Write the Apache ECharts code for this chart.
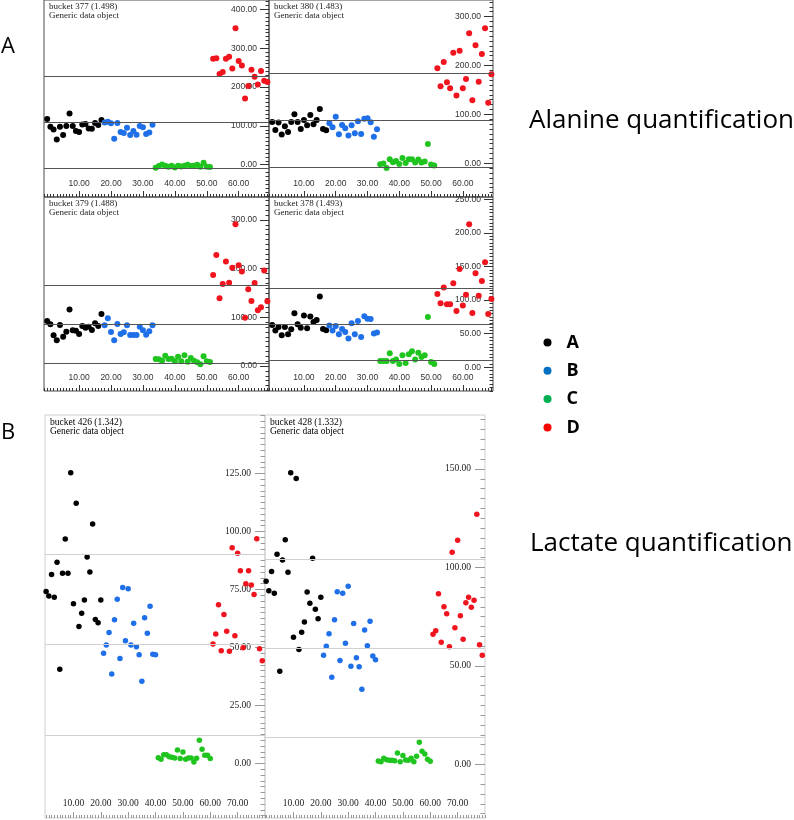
<!DOCTYPE html>
<html><head><meta charset="utf-8">
<script src="https://cdn.jsdelivr.net/npm/echarts@6/dist/echarts.min.js"></script>
<style>html,body{margin:0;padding:0;background:#fff}#c{width:794px;height:820px}</style>
</head><body><div id="c"></div>
<script>
// ---------- data ----------
const groupNames = ['A', 'B', 'C', 'D'];
// first sample index of each group
const alanineStarts = [0, 18, 34, 52];
const lactateStarts = [0, 21, 41, 61];

const alanineXTicks = [10, 20, 30, 40, 50, 60];
const lactateXTicks = [10, 20, 30, 40, 50, 60, 70];

// bucket 377 (1.498)
const b377Black = [117.6, 97.9, 91, 65.3, 97.9, 76.4, 99.6, 132, 99.6, 86.7, 84.2, 103.9, 104.8, 93.6, 92.8, 107.3, 102.2, 115.1];
const b377Blue = [109, 110.8, 106.5, 67, 107.3, 84.2, 81.6, 95.3, 76.4, 86.7, 77.3, 99.6, 96.2, 79, 83.3, 103];
const b377Green = [-7.6, -3.3, 0.9, -2.5, -5, -2.5, -6.8, -2.5, -4.2, -2.5, 0.1, -3.3, -2.5, 0, -5, 5.2, -5, -6];
const b377Red = [272.9, 273.8, 233.5, 238.7, 272.9, 278, 248, 351, 266.9, 255.7, 170.8, 202.5, 244.5, 226.5, 206.8, 241.1, 216.2, 212.8];
const b377Lines = [228, 109, -10];
const b377YTicks = [0, 100, 200, 300, 400];

// bucket 380 (1.483)
const b380Black = [84.5, 68.2, 83.2, 58.6, 75.7, 64.1, 84.5, 100.2, 84.5, 70.2, 88.6, 77.7, 98.8, 79.8, 88.6, 111.1, 70.2, 67.5];
const b380Blue = [81.8, 73.6, 95.4, 59.3, 78.4, 71.6, 56.6, 77.7, 61.3, 85.9, 60, 91.3, 92, 83.8, 54.5, 69.5];
const b380Green = [-2, -0.7, -9.5, 8.2, 2, 4.8, -1.4, 10.9, 0.7, 8.2, 8.2, 1.4, 7.5, 1.4, 3.4, 39.5, -2.7, -4.8];
const b380Red = [194.3, 157.5, 207.2, 165.6, 153.4, 226.3, 138.4, 230.4, 153.4, 172.5, 265.9, 128.8, 241.3, 167, 223.6, 276.1, 124, 182];
const b380Lines = [184, 88, -9];
const b380YTicks = [0, 100, 200, 300];

// bucket 379 (1.488)
const b379Black = [92.5, 85.6, 63, 52.7, 84.2, 60.3, 70.5, 115.8, 73.3, 72.6, 65.8, 82.2, 78.8, 80.8, 74, 87.7, 82.2, 106.8];
const b379Blue = [83.6, 97.9, 69.9, 52.7, 86.3, 65.8, 69.2, 83.6, 63.7, 63.7, 63.7, 80.8, 73.3, 64.4, 71.2, 83.6];
const b379Green = [14.4, 13.7, 11, 21.2, 14.4, 15.1, 9.6, 19.2, 9.6, 21.9, 8.9, 16.4, 11, 7.5, 3.4, 19.9, 9.6, 8.2];
const b379Red = [187, 228, 139, 168.5, 214.4, 171.2, 202, 291, 206.8, 193.8, 99.3, 157.5, 133.6, 170.5, 114.4, 120.5, 195.9, 132.9];
const b379Lines = [165, 85.5, 5.5];
const b379YTicks = [0, 100, 200, 300];

// bucket 378 (1.493)
const b378Black = [63, 54.6, 60, 47.6, 60, 49.1, 56.5, 80.4, 64, 59, 76.9, 58, 75.4, 67.5, 70.4, 105.2, 57, 55.1];
const b378Blue = [62, 54.6, 61.5, 49.1, 57, 52.6, 42.7, 65.5, 49.1, 69, 45.1, 75.9, 72.4, 71.9, 50.1, 51.6];
const b378Green = [9.4, 9.4, 9.4, 20.8, 9.4, 11.4, 5, 17.9, 6.4, 19.3, 23.8, 11.4, 21.8, 15.4, 17.9, 74.9, 7.9, 5];
const b378Red = [109.1, 95.2, 118.6, 93.8, 93.8, 125, 83.8, 146.3, 91.8, 108.1, 212.8, 80.9, 139.9, 106.6, 128.5, 156.3, 79.4, 101.7];
const b378Lines = [117, 64, 11];
const b378YTicks = [0, 50, 100, 150, 200, 250];

// bucket 426 (1.342)
const b426Black = [74.1, 72.2, 81.4, 71.6, 86.7, 40.6, 82, 96.8, 82, 125.3, 68.8, 112.2, 59, 64.7, 70.5, 89, 82.5, 103.2, 62.1, 60.7, 70.5];
const b426Blue = [47.5, 51.1, 56.4, 38.6, 61.9, 70.8, 45.3, 75.9, 52.9, 75.3, 51.1, 60.4, 50.3, 46.9, 35.4, 62.8, 56.1, 67.8, 47.1, 46.9];
const b426Green = [2.5, 1.8, 3.8, 3.8, 2.9, 2.7, 2.4, 5.8, 2.1, 5, 1.8, 2.4, 2.4, 0.6, 2.2, 10, 6.1, 3.5, 3.5, 2.1];
const b426Red = [51.5, 55.8, 68.4, 48.6, 64.2, 57, 48.4, 93, 55.1, 90.6, 83.1, 49.9, 77.5, 83.1, 76.9, 72.8, 96.9, 49.5, 44.3];
const b426Lines = [90, 51.2, 12.3];
const b426YTicks = [0, 25, 50, 75, 100, 125];

// bucket 428 (1.332)
const b428Black = [93, 88.2, 97.9, 86.9, 106.7, 47.3, 103.8, 114.1, 97.6, 148.1, 64.6, 145.1, 58.3, 67.1, 72.3, 87.6, 81.8, 104.7, 78.8, 73.9, 84.9];
const b428Blue = [55.4, 60, 66.4, 44.3, 73.4, 87.7, 52.7, 86.9, 61.5, 90.5, 49.8, 71.5, 54.2, 49.6, 38.2, 68.3, 60.2, 72.7, 55.1, 53.2];
const b428Green = [1.8, 1.4, 3.1, 2.4, 2.1, 2.1, 1.9, 5.8, 1.4, 4.5, 2.3, 2.1, 3.1, 1.3, 4.2, 11.3, 6.7, 5.3, 2.6, 1.6];
const b428Red = [66.1, 67.9, 86.7, 62, 80.1, 76.5, 59.8, 107.7, 69.4, 113.8, 75.5, 63.6, 82.1, 84.9, 79.8, 83.4, 127, 60.8, 55.4];
const b428Lines = [104, 59, 14];
const b428YTicks = [0, 50, 100, 150];

// ---------- layout / style ----------
const dotColors = ['#000000', '#1e6fe8', '#1fc41f', '#f0141e'];
const legendColors = ['#000000', '#0070C0', '#00B050', '#FF0000'];

const styleA = { border: '#4a4a4a', line: '#555555', tick: '#333333', label: '#333333',
  font: 'Liberation Sans', fs: 8.5, sym: 6, xMajor: 6, xMinor: 3, yMajor: 9, yMinor: 3.5, xMargin: 9, yMargin: 12 };
const styleB = { border: '#cfcfcf', line: '#d0d0d0', tick: '#9a9a9a', label: '#222222',
  font: 'Liberation Serif', fs: 9.5, sym: 5.5, xMajor: 6, xMinor: 3, yMajor: 10, yMinor: 4.5, xMargin: 10, yMargin: 14 };

const panels = [
  { cap: 'bucket 377 (1.498)', grid: { left: 44, top: 0, width: 225, height: 197 }, x: [-1, 69.5], xt: alanineXTicks,
    y: [-83, 424], yt: b377YTicks, ym: 10, g: [b377Black, b377Blue, b377Green, b377Red], st: alanineStarts, lines: b377Lines, s: styleA },
  { cap: 'bucket 380 (1.483)', grid: { left: 269, top: 0, width: 224, height: 197 }, x: [-1, 69.5], xt: alanineXTicks,
    y: [-69, 334], yt: b380YTicks, ym: 10, g: [b380Black, b380Blue, b380Green, b380Red], st: alanineStarts, lines: b380Lines, s: styleA },
  { cap: 'bucket 379 (1.488)', grid: { left: 44, top: 197, width: 225, height: 194 }, x: [-1, 69.5], xt: alanineXTicks,
    y: [-51.3, 347], yt: b379YTicks, ym: 10, g: [b379Black, b379Blue, b379Green, b379Red], st: alanineStarts, lines: b379Lines, s: styleA },
  { cap: 'bucket 378 (1.493)', grid: { left: 269, top: 197, width: 224, height: 194 }, x: [-1, 69.5], xt: alanineXTicks,
    y: [-35.3, 253.4], yt: b378YTicks, ym: 5, g: [b378Black, b378Blue, b378Green, b378Red], st: alanineStarts, lines: b378Lines, s: styleA },
  { cap: 'bucket 426 (1.342)', grid: { left: 45, top: 415, width: 220, height: 403 }, x: [-0.4, 80], xt: lactateXTicks,
    y: [-23.5, 150.2], yt: b426YTicks, ym: 2.5, g: [b426Black, b426Blue, b426Green, b426Red], st: lactateStarts, lines: b426Lines, s: styleB },
  { cap: 'bucket 428 (1.332)', grid: { left: 265, top: 415, width: 220, height: 403 }, x: [-0.4, 80], xt: lactateXTicks,
    y: [-27.2, 177.4], yt: b428YTicks, ym: 5, g: [b428Black, b428Blue, b428Green, b428Red], st: lactateStarts, lines: b428Lines, s: styleB }
];

function steps(lo, hi, step) {
  const out = [];
  for (let v = Math.ceil(lo / step) * step; v <= hi + 1e-9; v += step) out.push(+v.toFixed(4));
  return out;
}
const fmt = v => Number(v).toFixed(2);
const noLine = { show: false, onZero: false };

const grids = [], xAxes = [], yAxes = [], series = [], graphics = [];
panels.forEach((p, i) => {
  const s = p.s;
  grids.push(Object.assign({ show: true, borderColor: s.border, borderWidth: 1, backgroundColor: 'transparent' }, p.grid));
  const lab = { color: s.label, fontFamily: s.font, fontSize: s.fs };
  // major x axis
  xAxes.push({ type: 'value', gridIndex: i, min: p.x[0], max: p.x[1], position: 'bottom',
    axisLine: noLine, splitLine: { show: false },
    axisTick: { show: true, inside: true, length: s.xMajor, customValues: p.xt, lineStyle: { color: s.tick } },
    axisLabel: Object.assign({ show: true, inside: true, margin: s.xMargin, customValues: p.xt, formatter: fmt }, lab) });
  // minor x ticks
  xAxes.push({ type: 'value', gridIndex: i, min: p.x[0], max: p.x[1], position: 'bottom',
    axisLine: noLine, splitLine: { show: false }, axisLabel: { show: false },
    axisTick: { show: true, inside: true, length: s.xMinor, customValues: steps(p.x[0], p.x[1], 1), lineStyle: { color: s.tick } } });
  // major y axis
  yAxes.push({ type: 'value', gridIndex: i, min: p.y[0], max: p.y[1], position: 'right',
    axisLine: noLine, splitLine: { show: false },
    axisTick: { show: true, inside: true, length: s.yMajor, customValues: p.yt, lineStyle: { color: s.tick } },
    axisLabel: Object.assign({ show: true, inside: true, margin: s.yMargin, customValues: p.yt, formatter: fmt }, lab) });
  // minor y ticks
  yAxes.push({ type: 'value', gridIndex: i, min: p.y[0], max: p.y[1], position: 'right',
    axisLine: noLine, splitLine: { show: false }, axisLabel: { show: false },
    axisTick: { show: true, inside: true, length: s.yMinor, customValues: steps(p.y[0], p.y[1], p.ym), lineStyle: { color: s.tick } } });

  p.g.forEach((vals, k) => {
    const ser = {
      type: 'scatter', name: groupNames[k], xAxisIndex: 2 * i, yAxisIndex: 2 * i,
      symbol: 'circle', symbolSize: s.sym, itemStyle: { color: dotColors[k], opacity: 1 },
      data: vals.map((v, j) => [p.st[k] + j, v]), z: 3
    };
    if (k === 0) {
      ser.markLine = { silent: true, symbol: 'none', label: { show: false }, animation: false,
        lineStyle: { color: s.line, width: 1, type: 'solid' },
        data: p.lines.map(v => ({ yAxis: v })) };
    }
    series.push(ser);
  });

  const capFont = s === styleA ? '9px "Liberation Serif"' : '9.5px "Liberation Serif"';
  graphics.push({ type: 'text', left: p.grid.left + 5, top: p.grid.top + 2,
    style: { text: p.cap + '\nGeneric data object', font: capFont, fill: s === styleA ? '#222' : '#000', lineHeight: s === styleA ? 9.4 : 9.6 } });
});

graphics.push({ type: 'text', left: 1, top: 36, style: { text: 'A', font: '22px "Open Sans"', fill: '#000' } });
graphics.push({ type: 'text', left: 1, top: 422, style: { text: 'B', font: '22px "Open Sans"', fill: '#000' } });
graphics.push({ type: 'text', left: 529, top: 108, style: { text: 'Alanine quantification', font: '26px "Open Sans"', fill: '#000' } });
graphics.push({ type: 'text', left: 530, top: 531, style: { text: 'Lactate quantification', font: '26px "Open Sans"', fill: '#000' } });

const chart = echarts.init(document.getElementById('c'), null, { renderer: 'canvas' });
chart.setOption({
  animation: false,
  backgroundColor: '#ffffff',
  grid: grids, xAxis: xAxes, yAxis: yAxes, series: series, graphic: graphics,
  legend: {
    orient: 'vertical', left: 538.5, top: 327.5, itemWidth: 8, itemHeight: 8, itemGap: 8.3,
    icon: 'circle', selectedMode: false,
    data: groupNames.map((n, k) => ({ name: n, itemStyle: { color: legendColors[k] } })),
    textStyle: { fontFamily: 'Open Sans', fontWeight: 'bold', fontSize: 18, lineHeight: 20, color: '#000', padding: [0, 0, 0, 10] }
  }
});
</script></body></html>
